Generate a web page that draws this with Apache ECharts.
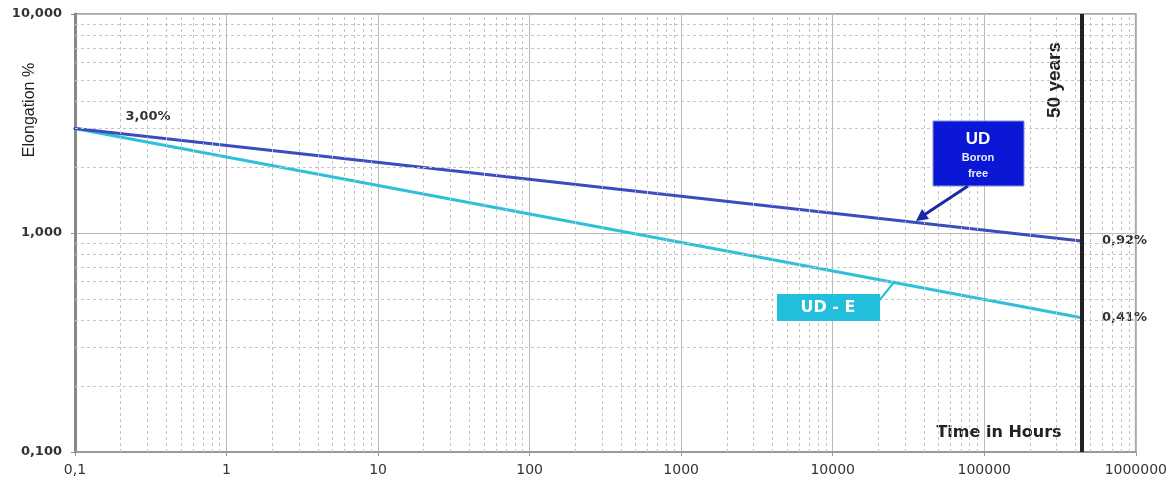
<!DOCTYPE html>
<html>
<head>
<meta charset="utf-8">
<script src="https://cdn.jsdelivr.net/npm/echarts@6/dist/echarts.min.js"></script>
<style>
  html, body { margin: 0; padding: 0; background: #fff; }
  #chart { width: 1170px; height: 482px; }
</style>
</head>
<body>
<div id="chart"></div>
<script>
// data
const timeHours = [0.1, 438000];        // start, 50 years
const udBoronFree = [3.0, 0.92];        // Elongation %
const udE = [3.0, 0.41];
const startLabel = '3,00%';
const endLabels = ['0,92%', '0,41%'];
const fiftyYears = 438000;
const xDecades = [0.1, 1, 10, 100, 1000, 10000, 100000, 1000000];
const yDecades = [0.1, 1, 10];

// minor gridlines 2..9 inside each decade
const minorX = [];
xDecades.slice(0, -1).forEach(d => { for (let k = 2; k <= 9; k++) minorX.push(+(d * k).toPrecision(3)); });
const minorY = [];
yDecades.slice(0, -1).forEach(d => { for (let k = 2; k <= 9; k++) minorY.push(+(d * k).toPrecision(3)); });

const chart = echarts.init(document.getElementById('chart'));
const font = 'Arial, "Liberation Sans", sans-serif';
const wide = '"DejaVu Sans", Verdana, sans-serif';

const pctLabel = {
    show: true, position: 'right', offset: [14, 0],
    fontFamily: wide, fontSize: 13, fontWeight: 'bold', color: '#333'
};

const option = {
    animation: false,
    grid: {
        left: 75, right: 34, top: 14, bottom: 30,
        show: true,
        borderColor: '#aaa',
        borderWidth: 2
    },
    xAxis: {
        type: 'log',
        logBase: 10,
        min: 0.1,
        max: 1000000,
        splitNumber: 7,
        axisLine: { onZero: false, lineStyle: { color: '#999', width: 2 } },
        axisTick: { length: 4, lineStyle: { color: '#999' } },
        axisLabel: {
            margin: 11,
            color: '#333',
            fontFamily: wide,
            fontSize: 14,
            formatter: v => v < 1 ? '0,1' : String(Math.round(v))
        },
        splitLine: { show: true, lineStyle: { color: '#bbb', width: 1 } }
    },
    yAxis: {
        type: 'log',
        logBase: 10,
        min: 0.1,
        max: 10,
        splitNumber: 2,
        axisLine: { show: true, lineStyle: { color: '#888', width: 3 } },
        axisTick: { show: true, length: 4, lineStyle: { color: '#888' } },
        axisLabel: {
            margin: 13,
            color: '#333',
            fontFamily: wide,
            fontSize: 13,
            fontWeight: 'bold',
            formatter: v => v.toFixed(3).replace('.', ',')
        },
        splitLine: { show: true, lineStyle: { color: '#bbb', width: 1 } }
    },
    series: [
        {
            // minor grid
            type: 'line',
            data: [],
            silent: true,
            markLine: {
                silent: true,
                symbol: ['none', 'none'],
                label: { show: false },
                animation: false,
                lineStyle: { color: '#c4c4c4', type: [3, 3], width: 1 },
                data: minorX.map(v => ({ xAxis: v })).concat(minorY.map(v => ({ yAxis: v })))
            }
        },
        {
            name: 'UD Boron free',
            type: 'line',
            symbol: 'circle',
            symbolSize: 3,
            lineStyle: { color: '#3b4bc0', width: 3 },
            itemStyle: { color: '#3b4bc0' },
            data: [
                {
                    value: [timeHours[0], udBoronFree[0]],
                    label: Object.assign({}, pctLabel, { formatter: startLabel, offset: [44, -12] })
                },
                {
                    value: [timeHours[1], udBoronFree[1]],
                    label: Object.assign({}, pctLabel, { formatter: endLabels[0] })
                }
            ],
            z: 3
        },
        {
            name: 'UD - E',
            type: 'line',
            symbol: 'circle',
            symbolSize: 3,
            lineStyle: { color: '#2ec0d8', width: 3 },
            itemStyle: { color: '#2ec0d8' },
            data: [
                [timeHours[0], udE[0]],
                {
                    value: [timeHours[1], udE[1]],
                    label: Object.assign({}, pctLabel, { formatter: endLabels[1] })
                }
            ],
            z: 2,
            markLine: {
                silent: true,
                symbol: ['none', 'none'],
                label: { show: false },
                lineStyle: { color: '#222', width: 4, type: 'solid' },
                data: [{ xAxis: fiftyYears }]
            }
        }
    ],
    graphic: [
        {
            type: 'text', x: 30, y: 110, rotation: Math.PI / 2,
            style: { text: 'Elongation %', font: '16px ' + font, fill: '#222', align: 'center', verticalAlign: 'middle' }
        },
        {
            type: 'text', x: 1055, y: 80, rotation: Math.PI / 2,
            style: { text: '50 years', font: 'bold 19px ' + font, fill: '#222', align: 'center', verticalAlign: 'middle' }
        },
        {
            type: 'text', x: 999, y: 433,
            style: { text: 'Time in Hours', font: 'bold 16px ' + wide, fill: '#222', align: 'center', verticalAlign: 'middle' }
        },
        // UD Boron free box + arrow
        {
            type: 'rect', shape: { x: 933, y: 121, width: 91, height: 65 },
            style: { fill: '#0a18d6', stroke: '#8090e0', lineWidth: 1 }, z: 10
        },
        {
            type: 'text', x: 978, y: 139, z: 11,
            style: { text: 'UD', font: 'bold 17px ' + font, fill: '#fff', align: 'center', verticalAlign: 'middle' }
        },
        {
            type: 'text', x: 978, y: 158, z: 11,
            style: { text: 'Boron', font: 'bold 11px ' + font, fill: '#e8ecff', align: 'center', verticalAlign: 'middle' }
        },
        {
            type: 'text', x: 978, y: 174, z: 11,
            style: { text: 'free', font: 'bold 11px ' + font, fill: '#e8ecff', align: 'center', verticalAlign: 'middle' }
        },
        {
            type: 'line', shape: { x1: 968, y1: 186, x2: 924, y2: 215 }, z: 10,
            style: { stroke: '#1a28a8', lineWidth: 3 }
        },
        {
            type: 'polygon', shape: { points: [[916, 221], [929, 219], [922, 209]] }, z: 10,
            style: { fill: '#1a28a8' }
        },
        // UD - E box + leader
        {
            type: 'line', shape: { x1: 878, y1: 302, x2: 895, y2: 281 }, z: 10,
            style: { stroke: '#22bfdc', lineWidth: 2 }
        },
        {
            type: 'rect', shape: { x: 777, y: 294, width: 103, height: 27 },
            style: { fill: '#22bfdc' }, z: 10
        },
        {
            type: 'text', x: 828, y: 308, z: 11,
            style: { text: 'UD - E', font: 'bold 16px ' + wide, fill: '#fff', align: 'center', verticalAlign: 'middle' }
        }
    ]
};

chart.setOption(option);
window.addEventListener('resize', () => { chart.resize(); });
</script>
</body>
</html>
